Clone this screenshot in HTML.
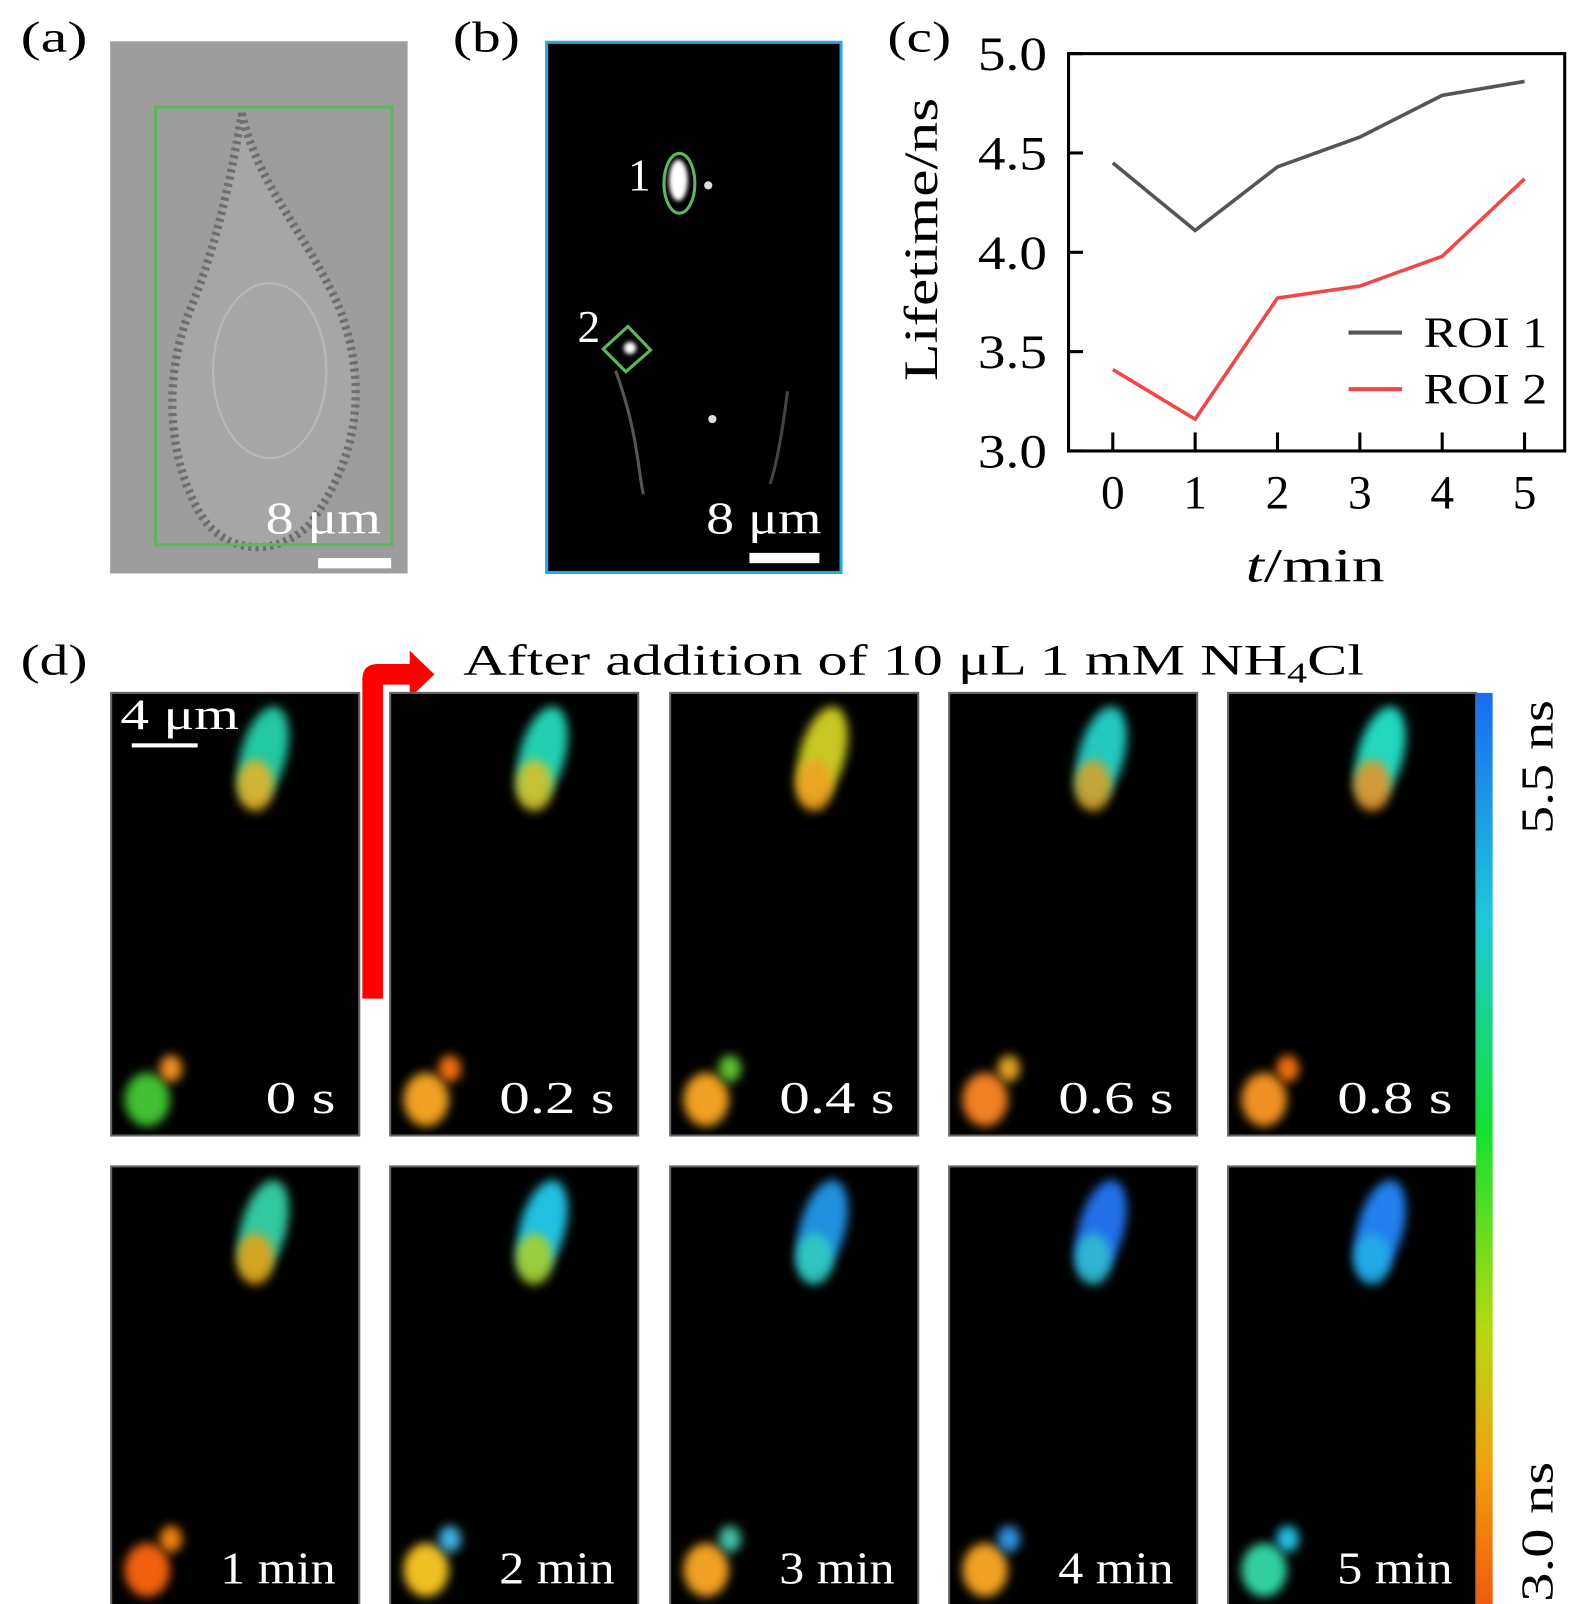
<!DOCTYPE html>
<html><head><meta charset="utf-8"><style>
html,body{margin:0;padding:0;background:#fff}
svg{display:block}
text{font-family:"Liberation Serif",serif}
</style></head><body>
<svg id="fig" width="1575" height="1604" viewBox="0 0 1530 1558" xmlns="http://www.w3.org/2000/svg">
<defs>
<filter id="blur4" x="-50%" y="-50%" width="200%" height="200%"><feGaussianBlur stdDeviation="5"/></filter>
<filter id="blur2" x="-50%" y="-50%" width="200%" height="200%"><feGaussianBlur stdDeviation="2"/></filter>
<linearGradient id="cbar" x1="0" y1="0" x2="0" y2="1">
<stop offset="0" stop-color="#1a6cf0"/><stop offset="0.25" stop-color="#1ec8d8"/><stop offset="0.48" stop-color="#14e030"/><stop offset="0.7" stop-color="#b8d810"/><stop offset="0.85" stop-color="#f0a010"/><stop offset="1" stop-color="#f05a10"/>
</linearGradient>
</defs>

<text x="20" y="50" font-size="42" textLength="65" lengthAdjust="spacingAndGlyphs">(a)</text>
<g>
<rect x="107" y="40" width="289" height="517" fill="#9d9d9d"/>
<path d="M235 110 C250 180 300 230 330 300 C360 380 345 450 300 510 C270 540 220 540 195 500 C160 440 160 360 185 300 C210 240 225 170 235 110Z" fill="#a6a6a6" stroke="#6e6e6e" stroke-width="8" stroke-dasharray="3 4"/>
<ellipse cx="262" cy="360" rx="55" ry="85" fill="none" stroke="#b8b8b8" stroke-width="2"/>
<rect x="151" y="104" width="230" height="425" fill="none" stroke="#5cb85c" stroke-width="3"/>
<text x="258" y="518" font-size="44" fill="#fff" textLength="112" lengthAdjust="spacingAndGlyphs">8 μm</text>
<rect x="309" y="542" width="71" height="10" fill="#fff"/>
</g>

<text x="440" y="50" font-size="42" textLength="65" lengthAdjust="spacingAndGlyphs">(b)</text>
<g>
<rect x="531" y="41" width="286" height="515" fill="#000" stroke="#29a8e0" stroke-width="3"/>
<ellipse cx="659" cy="175" rx="9" ry="20" fill="#fff" filter="url(#blur2)"/>
<circle cx="688" cy="180" r="4" fill="#ddd"/>
<circle cx="612" cy="338" r="6" fill="#fff" filter="url(#blur2)"/>
<circle cx="692" cy="407" r="4" fill="#ddd"/>
<path d="M598 360 C620 420 620 460 625 480" stroke="#555" stroke-width="3" fill="none"/>
<path d="M765 380 C760 420 755 450 748 470" stroke="#444" stroke-width="3" fill="none"/>
<ellipse cx="660" cy="178" rx="15" ry="29" fill="none" stroke="#5cb85c" stroke-width="3"/>
<text x="610" y="185" font-size="44" fill="#fff">1</text>
<path d="M610 317 L632 340 L608 361 L586 339 Z" fill="none" stroke="#5cb85c" stroke-width="3"/>
<text x="561" y="332" font-size="44" fill="#fff">2</text>
<text x="686" y="518" font-size="44" fill="#fff" textLength="112" lengthAdjust="spacingAndGlyphs">8 μm</text>
<rect x="728" y="537" width="68" height="10" fill="#fff"/>
</g>

<text x="862" y="50" font-size="42" textLength="62" lengthAdjust="spacingAndGlyphs">(c)</text>
<g id="chart"></g>

<text x="20" y="655" font-size="42" textLength="65" lengthAdjust="spacingAndGlyphs">(d)</text>
<path d="M352 970 L352 660 Q352 645 367 645 L398 645 L398 632 L422 655 L398 678 L398 665 L372 665 L372 970 Z" fill="#f00"/>
<text x="450" y="655" font-size="42" textLength="875" lengthAdjust="spacingAndGlyphs">After addition of 10 μL 1 mM NH<tspan font-size="28" dy="8">4</tspan><tspan dy="-8">Cl</tspan></text>
<g id="tiles"></g>
<rect x="1434" y="673" width="16" height="887" fill="url(#cbar)"/>
<text transform="translate(1508,810) rotate(-90)" font-size="44" textLength="130" lengthAdjust="spacingAndGlyphs">5.5 ns</text>
<text transform="translate(1508,1556) rotate(-90)" font-size="44" textLength="136" lengthAdjust="spacingAndGlyphs">3.0 ns</text>
</svg>
<script>
const NS='http://www.w3.org/2000/svg';
const times=[0,1,2,3,4,5];
const roi1=[4.45,4.11,4.43,4.58,4.79,4.86];
const roi2=[3.41,3.16,3.77,3.83,3.98,4.37];
const yTicks=[3.0,3.5,4.0,4.5,5.0];
const yTickLabels=['3.0','3.5','4.0','4.5','5.0'];
const xTickLabels=['0','1','2','3','4','5'];
const tileLabels=['0 s','0.2 s','0.4 s','0.6 s','0.8 s','1 min','2 min','3 min','4 min','5 min'];
const tileTopColors=[['#20c8a0','#f0b020'],['#20d0b0','#e0c020'],['#c8c820','#f0a020'],['#20c8c0','#e0a020'],['#20d8c0','#f09020'],['#30c8a0','#f0a010'],['#20c0e0','#b0d020'],['#2090e0','#30d0c0'],['#2070e8','#30c0d0'],['#2080f0','#20b0e8']];
const tileBotColors=[['#40c030','#f09020'],['#f0a020','#f07010'],['#f0a020','#60c030'],['#f08020','#e0a020'],['#f09020','#f07010'],['#f06010','#f08010'],['#f0c020','#40b0e0'],['#f0a020','#40c0a0'],['#f0a020','#3090e0'],['#30d0a0','#20c0e0']];

function el(t,a,p){const e=document.createElementNS(NS,t);for(const k in a)e.setAttribute(k,a[k]);p.appendChild(e);return e;}
const sx=v=>1081+(v-0)*(1481-1081)/5;
const sy=v=>438-(v-3)*(438-52)/2;
const g=document.getElementById('chart');
const frame=el('rect',{x:1038,y:52,width:482,height:386,fill:'none',stroke:'#000','stroke-width':3},g);


yTicks.forEach((v,i)=>{
  const t=el('line',{x1:1038,x2:1052,y1:sy(v),y2:sy(v),stroke:'#000','stroke-width':3},g);
  
  
  const l=el('text',{x:950,y:sy(v)+16,'font-size':46,textLength:67,lengthAdjust:'spacingAndGlyphs'},g);
  l.textContent=yTickLabels[i];
  
  
});
times.forEach((v,i)=>{
  const t=el('line',{x1:sx(v),x2:sx(v),y1:438,y2:420,stroke:'#000','stroke-width':3},g);
  
  
  const l=el('text',{x:sx(v),y:494,'font-size':46,'text-anchor':'middle'},g);
  l.textContent=xTickLabels[i];
  
  
});
const xt=el('text',{x:1210,y:565,'font-size':46,textLength:135,lengthAdjust:'spacingAndGlyphs'},g);
xt.innerHTML='<tspan font-style="italic">t</tspan>/min';


const yt=el('text',{transform:'translate(910,370) rotate(-90)','font-size':46,textLength:275,lengthAdjust:'spacingAndGlyphs'},g);
yt.textContent='Lifetime/ns';


function line(data,color,name){
  const p=el('polyline',{points:data.map((v,i)=>sx(times[i])+','+sy(v)).join(' '),fill:'none',stroke:color,'stroke-width':3.5},g);
  
  
}
line(roi1,'#555','roi-1-line');
line(roi2,'#f04848','roi-2-line');
[['ROI 1','#555',323],['ROI 2','#f04848',378]].forEach(([lab,c,y])=>{
  const s=el('line',{x1:1310,x2:1362,y1:y,y2:y,stroke:c,'stroke-width':4},g);
  
  
  const t=el('text',{x:1383,y:y+14,'font-size':42,textLength:120,lengthAdjust:'spacingAndGlyphs'},g);
  t.textContent=lab;
  
  
});

const tg=document.getElementById('tiles');
const cols=[108,379,651,922,1193];
const rows=[673,1133];
tileLabels.forEach((lab,i)=>{
  const x=cols[i%5], y=rows[Math.floor(i/5)], h=i<5?430:427;
  const grp=el('g',{},tg);
  
  
  el('rect',{x:x,y:y,width:241,height:h,fill:'#000',stroke:'#666','stroke-width':2},grp);
  const tc=tileTopColors[i], bc=tileBotColors[i];
  el('ellipse',{cx:x+148,cy:y+60,rx:22,ry:48,fill:tc[0],filter:'url(#blur4)',transform:`rotate(15 ${x+148} ${y+60})`},grp);
  el('ellipse',{cx:x+140,cy:y+90,rx:18,ry:25,fill:tc[1],filter:'url(#blur4)',opacity:0.85},grp);
  el('ellipse',{cx:x+35,cy:h+y-35,rx:22,ry:26,fill:bc[0],filter:'url(#blur4)'},grp);
  el('ellipse',{cx:x+58,cy:h+y-65,rx:11,ry:13,fill:bc[1],filter:'url(#blur4)'},grp);
  const t=el('text',{x:x+218,y:y+h-22,'font-size':44,fill:'#fff','text-anchor':'end',textLength:lab.length*22+2,lengthAdjust:'spacingAndGlyphs'},grp);
  t.textContent=lab;
  
  
});
const sb=el('rect',{x:128,y:722,width:64,height:4,fill:'#fff'},tg);


const sl=el('text',{x:117,y:708,'font-size':42,fill:'#fff',textLength:115,lengthAdjust:'spacingAndGlyphs'},tg);
sl.textContent='4 μm';


</script>
</body></html>
